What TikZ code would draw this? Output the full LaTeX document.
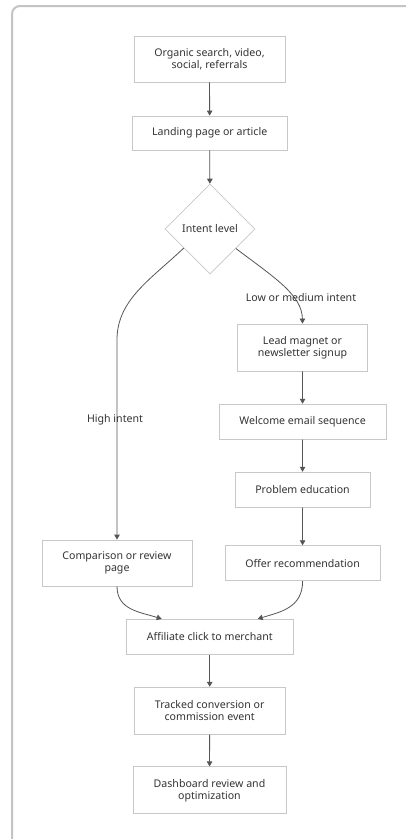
\documentclass[tikz,border=0pt]{standalone}
\usepackage{fontspec}
\setmainfont{Noto Sans}
\usetikzlibrary{shapes.geometric,arrows.meta,calc}
\definecolor{txt}{HTML}{333333}
\definecolor{bord}{HTML}{C8C8C8}
\definecolor{arr}{HTML}{555555}
\definecolor{frame}{HTML}{C4C4C4}
\tikzset{
  box/.style={draw=bord,line width=0.8pt,fill=white,text=txt,align=center,inner sep=0pt,
    font=\fontsize{10.6}{12}\selectfont},
  dia/.style={draw=bord,line width=0.8pt,fill=white,text=txt,diamond,aspect=1,inner sep=0pt,
    minimum width=90pt,minimum height=90pt,font=\fontsize{10.6}{12}\selectfont},
  flow/.style={draw=arr,line width=0.8pt,-{Triangle[length=5pt,width=5.5pt]}},
  lbl/.style={text=txt,font=\fontsize{10.6}{12}\selectfont,inner sep=0pt},
}
\begin{document}
\begin{tikzpicture}[x=1pt,y=-1pt]
\useasboundingbox (0,0) rectangle (405,839);
\fill[white] (0,0) rectangle (405,839);
\draw[frame,line width=2pt,rounded corners=8pt] (12,6) rectangle (440,880);

\node[box,minimum width=151pt,minimum height=46pt] (src) at (209.5,59) {Organic search, video,\\social, referrals};
\node[box,minimum width=155pt,minimum height=34pt] (land) at (209.7,133) {Landing page or article};
\node[dia] (d) at (210,229) {Intent level};
\node[box,minimum width=130pt,minimum height=47pt] (lead) at (302.5,347.5) {Lead magnet or\\newsletter signup};
\node[box,minimum width=167pt,minimum height=35pt] (wel) at (302.6,421.7) {Welcome email sequence};
\node[box,minimum width=135pt,minimum height=35pt] (prob) at (302.5,489.7) {Problem education};
\node[box,minimum width=155pt,minimum height=35pt] (offer) at (302.6,563.2) {Offer recommendation};
\node[box,minimum width=150pt,minimum height=46pt] (cmp) at (117,563) {Comparison or review\\page};
\node[box,minimum width=167pt,minimum height=35pt] (aff) at (209.7,636.8) {Affiliate click to merchant};
\node[box,minimum width=151pt,minimum height=47pt] (trk) at (209.7,710.7) {Tracked conversion or\\commission event};
\node[box,minimum width=153pt,minimum height=47pt] (dash) at (209.5,790.3) {Dashboard review and\\optimization};

\draw[flow] (src) -- (land);
\draw[flow] (land) -- (d);
\draw[flow] (d.216) .. controls (150,280) and (117,300) .. (117,340) -- (cmp.north);
\draw[flow] (d.323) .. controls (275,278) and (302,295) .. (lead.north);
\draw[flow] (lead) -- (wel);
\draw[flow] (wel) -- (prob);
\draw[flow] (prob) -- (offer);
\coordinate (affl) at ($(aff.north)+(-48,0)$);
\coordinate (affr) at ($(aff.north)+(48,0)$);
\draw[flow] (cmp.south) .. controls (117,610) and (140,612) .. (affl);
\draw[flow] (offer.south) .. controls (302.6,608) and (280,612) .. (affr);
\draw[flow] (aff) -- (trk);
\draw[flow] (trk) -- (dash);

\node[lbl] (hi) at (115,420) {High intent};
\node[lbl] (lo) at (301,298) {Low or medium intent};
\end{tikzpicture}
\end{document}
